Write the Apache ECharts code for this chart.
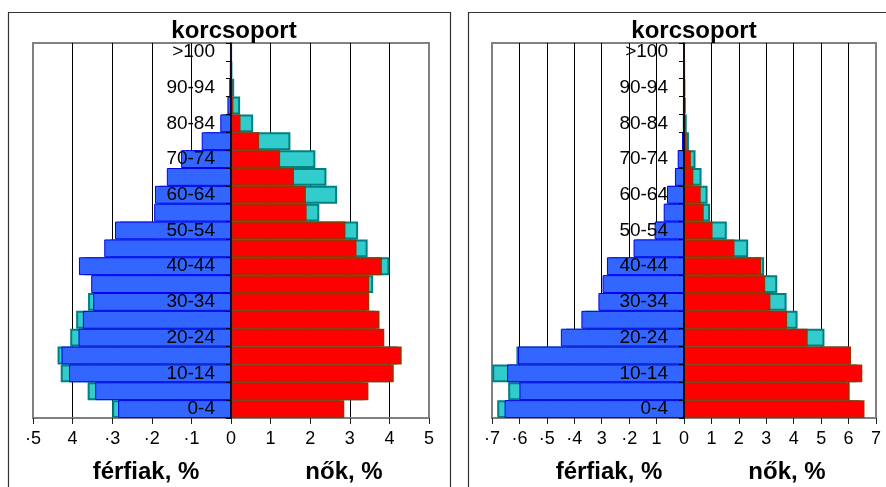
<!DOCTYPE html>
<html>
<head>
<meta charset="utf-8">
<script src="https://cdn.jsdelivr.net/npm/echarts@6/dist/echarts.min.js"></script>
<style>
html,body{margin:0;padding:0;background:#fff;}
#chart{width:886px;height:487px;}
</style>
</head>
<body>
<div id="chart"></div>
<script>
// Age groups, bottom to top
const ages = ['0-4','5-9','10-14','15-19','20-24','25-29','30-34','35-39','40-44','45-49',
  '50-54','55-59','60-64','65-69','70-74','75-79','80-84','85-89','90-94','95-99','>100'];

// Left pyramid (%)
const maleA      = [2.85,3.43,4.09,4.28,3.85,3.74,3.48,3.53,3.84,3.20,2.93,1.94,1.92,1.62,1.26,0.74,0.27,0.09,0.04,0.01,0.005];
const femaleA    = [2.86,3.47,4.11,4.31,3.87,3.75,3.49,3.49,3.81,3.17,2.89,1.91,1.89,1.59,1.24,0.71,0.24,0.06,0.03,0.01,0.005];
const maleRefA   = [3.00,3.62,4.30,4.38,4.06,3.91,3.61,3.40,3.70,3.05,2.80,1.85,1.80,1.50,1.15,0.65,0.22,0.07,0.03,0.01,0.003];
const femaleRefA = [2.75,3.35,4.00,4.20,3.75,3.65,3.40,3.59,4.00,3.45,3.21,2.23,2.68,2.41,2.13,1.50,0.56,0.23,0.08,0.02,0.005];
const ticksA = ['·5','4','·3','·2','·1','0','1','2','3','4','5'];

// Right pyramid (%)
const maleB      = [6.54,6.00,6.45,6.05,4.49,3.74,3.12,2.97,2.81,1.84,1.07,0.74,0.62,0.33,0.23,0.07,0.02,0.01,0.005,0.002,0];
const femaleB    = [6.58,6.04,6.50,6.09,4.51,3.76,3.15,2.96,2.81,1.84,1.04,0.72,0.61,0.34,0.25,0.10,0.04,0.02,0.01,0.003,0];
const maleRefB   = [6.81,6.41,6.99,6.11,4.30,3.60,3.00,2.85,2.70,1.75,1.00,0.70,0.58,0.30,0.20,0.05,0.015,0.008,0.004,0.001,0];
const femaleRefB = [6.40,5.90,6.30,6.00,5.12,4.14,3.74,3.40,2.92,2.34,1.56,0.95,0.86,0.64,0.42,0.18,0.10,0.06,0.03,0.01,0.003];
const ticksB = ['·7','·6','·5','·4','3','·2','1','0','1','2','3','4','5','6','7'];

const titleText = 'korcsoport';
const maleName = 'férfiak, %';
const femaleName = 'nők, %';

const FONT = '"Liberation Sans", Arial, sans-serif';

// grid boxes (pixels)
const gridA = {left: 33, width: 396};
const gridB = {left: 492, width: 384};

function panel(i, g, min, max, ticks, male, female, maleRef, femaleRef) {
  const n = max - min + 1;
  const splitColors = [];
  for (let k = 0; k < n; k++) splitColors.push(k === 0 || k === n - 1 ? '#808080' : '#000000');
  // distance from grid left edge to the zero value
  const zeroOffset = g.width * (0 - min) / (max - min);
  const xAxis = {
    type: 'value', gridIndex: i, min: min, max: max, interval: 1,
    axisLine: {show: true, onZero: false, lineStyle: {color: '#808080', width: 2}},
    axisTick: {show: true, length: 6, lineStyle: {color: '#222'}},
    axisLabel: {formatter: v => ticks[Math.round(v - min)], fontSize: 18, margin: 12, color: '#000', fontFamily: FONT},
    splitLine: {show: true, lineStyle: {color: splitColors, width: 1}}
  };
  const yAxis = {
    type: 'category', gridIndex: i, data: ages, z: 10, position: 'left', offset: -zeroOffset,
    axisLine: {show: true, onZero: false, lineStyle: {color: '#000', width: 1.5}},
    axisTick: {show: true, interval: 0, length: 5, lineStyle: {color: '#000'}},
    axisLabel: {interval: 1, margin: 16, fontSize: 19, color: '#000', fontFamily: FONT},
    splitLine: {show: false}
  };
  const common = {type: 'bar', xAxisIndex: i, yAxisIndex: i, barGap: '-100%', barCategoryGap: 0, silent: true};
  const series = [
    Object.assign({}, common, {data: maleRef.map(v => -v), itemStyle: {color: '#33CCCC', borderColor: '#008080', borderWidth: 2}}),
    Object.assign({}, common, {data: femaleRef, itemStyle: {color: '#33CCCC', borderColor: '#008080', borderWidth: 2}}),
    Object.assign({}, common, {data: male.map(v => -v), itemStyle: {color: '#3366FF', borderColor: '#0000EE', borderWidth: 1}}),
    Object.assign({}, common, {data: female, itemStyle: {color: '#FF0000', borderColor: '#993300', borderWidth: 1.5}})
  ];
  return {xAxis, yAxis, series};
}

const pA = panel(0, gridA, -5, 5, ticksA, maleA, femaleA, maleRefA, femaleRefA);
const pB = panel(1, gridB, -7, 7, ticksB, maleB, femaleB, maleRefB, femaleRefB);

function txt(x, y, s) {
  return {type: 'text', x: x, y: y, z: 100, style: {text: s, font: 'bold 24px ' + FONT, fill: '#000', textAlign: 'center', textVerticalAlign: 'middle'}};
}

const chart = echarts.init(document.getElementById('chart'), null, {renderer: 'canvas'});
chart.setOption({
  animation: false,
  backgroundColor: '#fff',
  grid: [
    {left: gridA.left, width: gridA.width, top: 43, bottom: 69, show: true, borderColor: '#808080', borderWidth: 2, containLabel: false, outerBoundsMode: 'none'},
    {left: gridB.left, width: gridB.width, top: 43, bottom: 69, show: true, borderColor: '#808080', borderWidth: 2, containLabel: false, outerBoundsMode: 'none'}
  ],
  xAxis: [pA.xAxis, pB.xAxis],
  yAxis: [pA.yAxis, pB.yAxis],
  series: pA.series.concat(pB.series),
  graphic: [
    {type: 'rect', shape: {x: 8.5, y: 12.5, width: 442, height: 520}, style: {fill: 'none', stroke: '#333', lineWidth: 1.2}, z: -1},
    {type: 'rect', shape: {x: 468.5, y: 12.5, width: 440, height: 520}, style: {fill: 'none', stroke: '#333', lineWidth: 1.2}, z: -1},
    txt(234, 31, titleText),
    txt(694, 31, titleText),
    txt(146, 472, maleName),
    txt(344, 472, femaleName),
    txt(609, 472, maleName),
    txt(787, 472, femaleName)
  ]
});
</script>
</body>
</html>
